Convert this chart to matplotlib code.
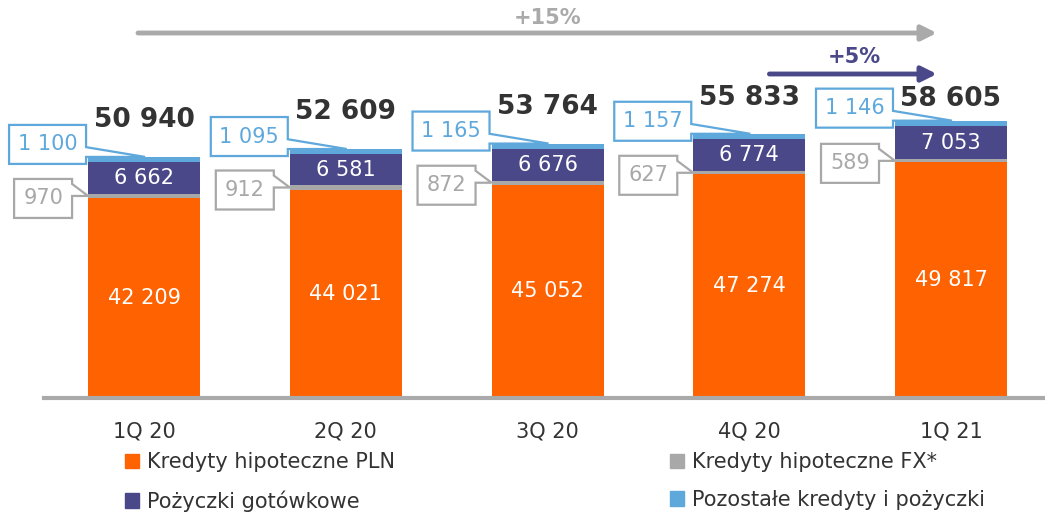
import matplotlib

matplotlib.use("Agg")
import matplotlib.pyplot as plt
from matplotlib.patches import Patch, Polygon
from matplotlib.transforms import IdentityTransform

plt.rcParams["font.family"] = ["DejaVu Sans"]

quarters = ["1Q 20", "2Q 20", "3Q 20", "4Q 20", "1Q 21"]
mortgage_pln = [42209, 44021, 45052, 47274, 49817]
mortgage_fx = [970, 912, 872, 627, 589]
cash_loans = [6662, 6581, 6676, 6774, 7053]
other_loans = [1100, 1095, 1165, 1157, 1146]
totals = [50940, 52609, 53764, 55833, 58605]
growth_year = "+15%"
growth_quarter = "+5%"
series_names = [
    "Kredyty hipoteczne PLN",
    "Pożyczki gotówkowe",
    "Kredyty hipoteczne FX*",
    "Pozostałe kredyty i pożyczki",
]

ORANGE = "#FF6200"
PURPLE = "#4B4889"
GREY = "#A8A8A8"
BLUE = "#5FA8DC"
DARK = "#333333"

W, H = 1045, 515
DPI = 100
BAR_W = 0.555


def fmt(v):
    return f"{v:,}".replace(",", " ")


fig = plt.figure(figsize=(W / DPI, H / DPI), dpi=DPI)
ax = fig.add_axes([44 / W, (H - 398) / H, (W - 44) / W, 398 / H])
ax.set_xlim(-0.496, 4.466)
ax.set_ylim(0, 84100)
for s in ["top", "right", "left"]:
    ax.spines[s].set_visible(False)
ax.spines["bottom"].set_color("#AAAAAA")
ax.spines["bottom"].set_linewidth(3)
ax.set_yticks([])
ax.set_xticks(range(len(quarters)), quarters, fontsize=15, color=DARK)
ax.tick_params(axis="x", length=0, pad=17)

x = list(range(len(quarters)))
b1 = [a for a in mortgage_pln]
b2 = [a + b for a, b in zip(b1, mortgage_fx)]
b3 = [a + b for a, b in zip(b2, cash_loans)]
ax.bar(x, mortgage_pln, BAR_W, color=ORANGE)
ax.bar(x, mortgage_fx, BAR_W, bottom=b1, color=GREY)
ax.bar(x, cash_loans, BAR_W, bottom=b2, color=PURPLE)
ax.bar(x, other_loans, BAR_W, bottom=b3, color=BLUE)

for i in x:
    ax.text(i, mortgage_pln[i] / 2, fmt(mortgage_pln[i]), ha="center", va="center",
            color="white", fontsize=15)
    ax.text(i, b2[i] + cash_loans[i] / 2, fmt(cash_loans[i]), ha="center", va="center",
            color="white", fontsize=15)

# totals above bars (last one sits lower because of the arrow)
total_offsets = [37, 37, 37, 36, 22]
for i in x:
    ax.annotate(fmt(totals[i]), (i, b3[i] + other_loans[i]), xytext=(0, total_offsets[i]),
                textcoords="offset pixels", ha="center", va="center",
                fontsize=19, fontweight="bold", color=DARK)


def to_img(xd, yd):
    px, py = ax.transData.transform((xd, yd))
    return px, H - py


def callout(tip, box, wedge, text, color):
    """box=(left, top, right, bottom) in image px; wedge = two y's on the right edge."""
    l, t, r, b = box
    pts = [(l, t), (r, t), (r, wedge[0]), tip, (r, wedge[1]), (r, b), (l, b)]
    pts = [(px, H - py) for px, py in pts]
    fig.patches.append(Polygon(pts, closed=True, fill=True, facecolor="white",
                               edgecolor=color, lw=1.6, transform=IdentityTransform(),
                               figure=fig, zorder=5))
    fig.text((l + r) / 2 / W, 1 - (t + b) / 2 / H, text, ha="center", va="center",
             color=color, fontsize=15, zorder=6)


for i in x:
    # other loans callout (blue)
    tx, ty = to_img(i, b3[i] + other_loans[i])
    tx += 1
    r = tx - 59
    bot = ty + 7
    top = bot - 39
    callout((tx, ty), (r - 77, top, r, bot), (top + 0.57 * 39, ty), fmt(other_loans[i]), BLUE)
    # FX mortgages callout (grey)
    gx, gy = to_img(i - BAR_W / 2, b1[i] + mortgage_fx[i] / 2)
    r = gx - 16
    top = gy - 17
    callout((gx, gy), (r - 58, top, r, top + 39), (top + 5, gy), fmt(mortgage_fx[i]), GREY)

# growth arrows
tr = ax.get_xaxis_transform()
ax.annotate("", xy=(3.93, 1 - 33 / 398), xytext=(-0.03, 1 - 33 / 398), xycoords=tr,
            arrowprops=dict(arrowstyle="-|>,head_length=0.9,head_width=0.45", color="#AAAAAA",
                            lw=3.5, shrinkA=0, shrinkB=0))
ax.text(2.0, 1 - 18 / 398, growth_year, transform=tr, ha="center", va="center",
        fontsize=15, fontweight="bold", color="#AAAAAA")
ax.annotate("", xy=(3.93, 1 - 74 / 398), xytext=(3.1, 1 - 74 / 398), xycoords=tr,
            arrowprops=dict(arrowstyle="-|>,head_length=0.9,head_width=0.45", color=PURPLE,
                            lw=3.5, shrinkA=0, shrinkB=0))
ax.text(3.52, 1 - 57 / 398, growth_quarter, transform=tr, ha="center", va="center",
        fontsize=15, fontweight="bold", color=PURPLE)

handles = [Patch(color=c) for c in [ORANGE, PURPLE, GREY, BLUE]]
fig.legend(handles, series_names, ncol=2, loc="upper left", bbox_to_anchor=(117 / W, 1 - 444 / H),
           frameon=False, fontsize=15, handlelength=0.65, handleheight=0.7, handletextpad=0.4,
           columnspacing=13.2, labelspacing=0.85, labelcolor=DARK, borderaxespad=0)

fig.savefig("out.png", dpi=DPI)
